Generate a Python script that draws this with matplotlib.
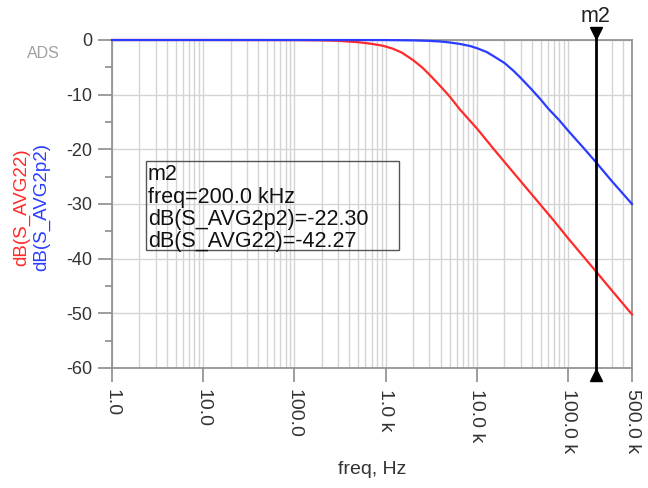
import matplotlib.pyplot as plt
import matplotlib.transforms as mtransforms
from matplotlib.patches import Rectangle
from matplotlib.ticker import FixedLocator, NullFormatter

plt.rcParams['font.family'] = ['Liberation Sans', 'DejaVu Sans']

# values
freq_red = [1, 10, 100, 200, 300, 500, 700, 900, 1000, 1200, 1500, 2000, 2500,
            3000, 4000, 5000, 6500, 8000, 10000, 15000, 20000, 30000, 50000,
            70000, 100000, 150000, 200000, 300000, 500000]
db_red = [0, 0, -0.02, -0.07, -0.15, -0.4, -0.7, -1.0, -1.2, -1.6, -2.3, -3.7, -5.0,
          -6.3, -8.5, -10.3, -12.7, -14.4, -16.2, -19.8, -22.3, -25.8, -30.2,
          -33.1, -36.3, -39.8, -42.27, -45.8, -50.2]

freq_blue = [1, 100, 1000, 2000, 3000, 4000, 5000, 6500, 8400, 10000, 12800,
             15000, 20000, 25000, 30000, 40000, 50000, 60000, 80000, 100000,
             150000, 200000, 300000, 500000]
db_blue = [0, 0, -0.01, -0.07, -0.16, -0.28, -0.45, -0.72, -1.1, -1.5, -2.2,
           -2.9, -4.2, -5.6, -6.9, -9.1, -10.9, -12.5, -14.7, -16.6,
           -19.9, -22.3, -25.8, -30.0]

xticks = [1, 10, 100, 1000, 10000, 100000, 500000]
xticklabels = ["1.0", "10.0", "100.0", "1.0 k", "10.0 k", "100.0 k", "500.0 k"]
yticks = [0, -10, -20, -30, -40, -50, -60]

marker_freq = 200000
marker_lines = ["m2", "freq=200.0 kHz", "dB(S_AVG2p2)=-22.30", "dB(S_AVG22)=-42.27"]

red = "#ff2a2a"
blue = "#2a3cff"
grid_c = "#d4d4d4"
frame_c = "#8c8c8c"
W, H = 648, 488

fig = plt.figure(figsize=(6.48, 4.88), dpi=100)
ax = fig.add_axes([112 / W, 1 - 368 / H, 520 / W, 328 / H])

ax.set_xscale("log")
ax.set_xlim(1, 500000)
ax.set_ylim(-60, 0)

# grid: every 1..9 per decade vertically, every 10 dB horizontally
vgrid = [m * 10 ** d for d in range(0, 6) for m in range(1, 10) if m * 10 ** d <= 500000]
for v in vgrid:
    ax.axvline(v, color=grid_c, lw=1, zorder=0)
for h in yticks:
    ax.axhline(h, color=grid_c, lw=1, zorder=0)

ax.plot(freq_red, db_red, color=red, lw=1.6, clip_on=False, zorder=3)
ax.plot(freq_blue, db_blue, color=blue, lw=1.6, clip_on=False, zorder=3)

for s in ax.spines.values():
    s.set_color(frame_c)
    s.set_linewidth(1.2)

ax.xaxis.set_major_locator(FixedLocator(xticks))
ax.xaxis.set_minor_locator(FixedLocator([]))
ax.set_xticklabels(xticklabels, rotation=270, fontsize=14, color="#333333")
ax.yaxis.set_major_locator(FixedLocator(yticks))
ax.yaxis.set_minor_locator(FixedLocator([-5, -15, -25, -35, -45, -55]))
ax.yaxis.set_minor_formatter(NullFormatter())
ax.set_yticklabels([str(t) for t in yticks], fontsize=13, color="#333333")
ax.tick_params(axis="both", which="major", length=10, width=1.2, color=frame_c, pad=4)
ax.tick_params(axis="y", which="minor", length=5, width=1.2, color=frame_c)
ax.tick_params(axis="x", pad=5)

fig.text(372 / W, 1 - 470 / H, "freq, Hz", fontsize=14, color="#333333",
         ha="center", va="center")

# two coloured y labels
fig.text(22 / W, 1 - 207 / H, "dB(S_AVG22)", rotation=90, color=red,
         fontsize=13.5, ha="center", va="center")
fig.text(42 / W, 1 - 207 / H, "dB(S_AVG2p2)", rotation=90, color=blue,
         fontsize=13.5, ha="center", va="center")
fig.text(43 / W, 1 - 53 / H, "ADS", color="#a0a0a0", fontsize=11.5,
         ha="center", va="center")

# marker m2
ax.axvline(marker_freq, ymin=-0.035, ymax=1.025, color="black", lw=2,
           clip_on=False, zorder=5)
up = mtransforms.offset_copy(ax.transData, fig=fig, x=0, y=5, units="points")
down = mtransforms.offset_copy(ax.transData, fig=fig, x=0, y=-5, units="points")
ax.plot([marker_freq], [0], marker="v", ms=9, color="black", transform=up,
        clip_on=False, zorder=6)
ax.plot([marker_freq], [-60], marker="^", ms=9, color="black", transform=down,
        clip_on=False, zorder=6)
ax.text(marker_freq, 0, "m2", transform=mtransforms.offset_copy(
        ax.transData, fig=fig, x=0, y=9.5, units="points"),
        ha="center", va="bottom", fontsize=15.5, color="#222222")

# readout box
x0 = (146 - 112) / 520
x1 = (399 - 112) / 520
y_top = (368 - 161) / 328
y_bot = (368 - 250) / 328
ax.add_patch(Rectangle((x0, y_bot), x1 - x0, y_top - y_bot, transform=ax.transAxes,
                       fill=False, edgecolor="#555555", lw=1, zorder=4))
baselines = [180, 202.5, 225, 247]
for line, yb in zip(marker_lines, baselines):
    fig.text(148 / W, 1 - yb / H, line, ha="left", va="baseline", fontsize=15.5,
             color="#111111", zorder=4)

fig.savefig("out.png", dpi=100)
